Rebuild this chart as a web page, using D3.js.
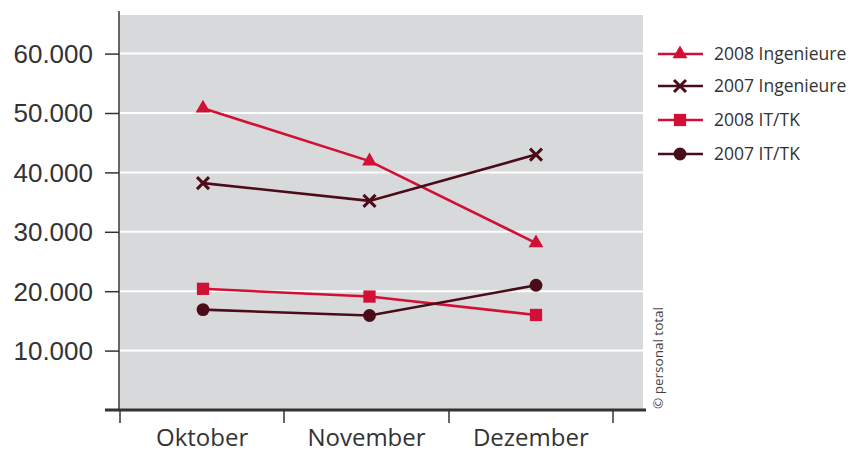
<!DOCTYPE html>
<html>
<head>
<meta charset="utf-8">
<script src="https://cdn.jsdelivr.net/npm/d3@7"></script>
<style>
  html, body { margin: 0; padding: 0; background: #fff; }
  svg { display: block; font-family: "Open Sans", "Noto Sans", sans-serif; }
</style>
</head>
<body>
<div id="chart"></div>
<script>
// Monthly demand
const months = ["Oktober", "November", "Dezember"];
const yTicks = [10000, 20000, 30000, 40000, 50000, 60000];

const ing2008 = [50800, 41900, 28100];
const ing2007 = [38200, 35200, 43000];
const it2008 = [20400, 19100, 16000];
const it2007 = [16900, 15900, 21000];

const seriesNames = ["2008 Ingenieure", "2007 Ingenieure", "2008 IT/TK", "2007 IT/TK"];

const RED = "#d20f35";
const DARK = "#4a0c18";

const series = [
  { name: seriesNames[0], values: ing2008, color: RED, symbol: "triangle" },
  { name: seriesNames[1], values: ing2007, color: DARK, symbol: "cross" },
  { name: seriesNames[2], values: it2008, color: RED, symbol: "square" },
  { name: seriesNames[3], values: it2007, color: DARK, symbol: "circle" },
];

const W = 863, H = 453;
const plot = { left: 120, right: 643, top: 15, bottom: 410 };

const svg = d3.select("#chart").append("svg")
  .attr("width", W).attr("height", H)
  .attr("viewBox", `0 0 ${W} ${H}`);

// labels sit in bands, markers are shifted a touch to the right in the original
const x = d3.scaleBand().domain(months).range([120, 613]);
const xp = d3.scalePoint().domain(months).range([203, 536]);
const y = d3.scaleLinear().domain([0, 10000]).range([plot.bottom, plot.bottom - 59.4]);

// background
svg.append("rect")
  .attr("x", plot.left).attr("y", plot.top)
  .attr("width", plot.right - plot.left).attr("height", plot.bottom - plot.top)
  .attr("fill", "#d8d9db");

// white gridlines
svg.append("g").selectAll("line").data(yTicks).enter().append("line")
  .attr("x1", plot.left).attr("x2", plot.right)
  .attr("y1", (d) => y(d)).attr("y2", (d) => y(d))
  .attr("stroke", "#fff").attr("stroke-width", 2);

// y axis
const yAxis = d3.axisLeft(y).tickValues(yTicks).tickSize(14).tickPadding(12)
  .tickFormat((d) => d3.format(",")(d).replace(/,/g, "."));
const yG = svg.append("g").attr("transform", `translate(${plot.left - 1},0)`).call(yAxis);
yG.select(".domain").remove();
yG.append("line")
  .attr("x1", 0).attr("x2", 0).attr("y1", plot.top - 4).attr("y2", plot.bottom)
  .attr("stroke", "#333").attr("stroke-width", 1.5);
yG.selectAll(".tick line").attr("stroke", "#333").attr("stroke-width", 1.5);
yG.selectAll(".tick text").attr("fill", "#333").style("font-size", "26px").attr("dy", "0.34em");

// x axis
const xBounds = [120, 284, 449, 613];
const xG = svg.append("g");
xG.append("line")
  .attr("x1", 105).attr("x2", 646).attr("y1", plot.bottom).attr("y2", plot.bottom)
  .attr("stroke", "#333").attr("stroke-width", 3);
xG.selectAll("line.tk").data(xBounds).enter().append("line")
  .attr("class", "tk")
  .attr("x1", (d) => d).attr("x2", (d) => d)
  .attr("y1", plot.bottom).attr("y2", plot.bottom + 13)
  .attr("stroke", "#333").attr("stroke-width", 1.5);
xG.selectAll("text").data(months).enter().append("text")
  .attr("x", (d) => x(d) + x.bandwidth() / 2)
  .attr("y", 446)
  .attr("text-anchor", "middle")
  .attr("fill", "#333")
  .style("font-size", "24px")
  .text((d) => d);

function drawSymbol(g, kind, color, cx, cy) {
  if (kind === "cross") {
    const s = 6;
    g.append("path")
      .attr("d", `M${cx - s},${cy - s}L${cx + s},${cy + s}M${cx - s},${cy + s}L${cx + s},${cy - s}`)
      .attr("stroke", color).attr("stroke-width", 3).attr("fill", "none");
    return;
  }
  const type = { triangle: d3.symbolTriangle, square: d3.symbolSquare, circle: d3.symbolCircle }[kind];
  const size = { triangle: 95, square: 150, circle: 130 }[kind];
  g.append("path")
    .attr("d", d3.symbol(type, size)())
    .attr("transform", `translate(${cx},${cy})`)
    .attr("fill", color);
}

const line = d3.line()
  .x((d, i) => xp(months[i]))
  .y((d) => y(d));

const linesG = svg.append("g");
series.forEach((s) => {
  linesG.append("path")
    .attr("d", line(s.values))
    .attr("fill", "none")
    .attr("stroke", s.color)
    .attr("stroke-width", 2.6);
});
series.forEach((s) => {
  s.values.forEach((v, i) => {
    drawSymbol(linesG, s.symbol, s.color, xp(months[i]), y(v));
  });
});

// legend
const legendY = [54, 86, 120, 154];
const legendG = svg.append("g");
series.forEach((s, i) => {
  const ly = legendY[i];
  legendG.append("line")
    .attr("x1", 658).attr("x2", 703).attr("y1", ly).attr("y2", ly)
    .attr("stroke", s.color).attr("stroke-width", 2.6);
  drawSymbol(legendG, s.symbol, s.color, 680, ly);
  legendG.append("text")
    .attr("x", 714).attr("y", ly).attr("dy", "0.35em")
    .attr("fill", "#333")
    .style("font-size", "17.5px")
    .text(s.name);
});

// copyright
svg.append("text")
  .attr("transform", "translate(663,409) rotate(-90)")
  .attr("fill", "#444")
  .style("font-size", "13.5px")
  .text("© personal total");
</script>
</body>
</html>
